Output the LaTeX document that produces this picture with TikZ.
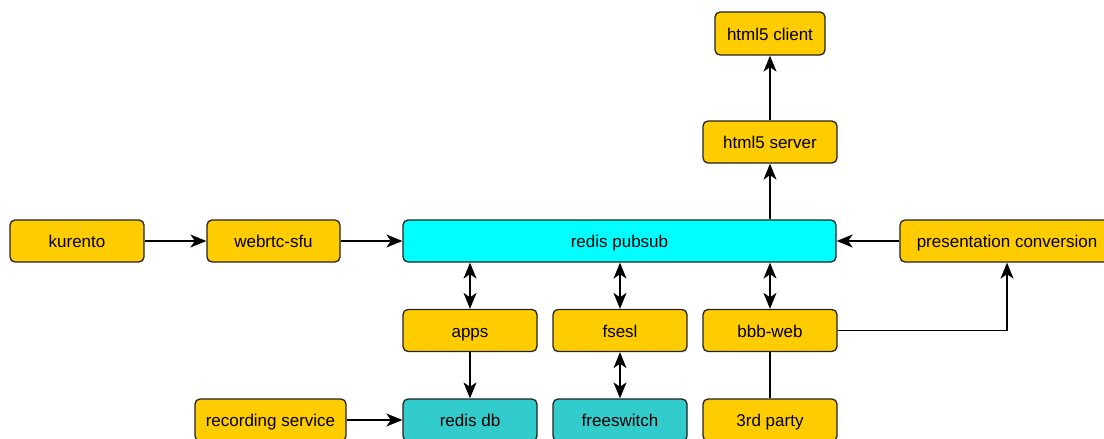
\documentclass[tikz,border=0pt]{standalone}
\usepackage{fontspec}
\setmainfont{Liberation Sans}
\usetikzlibrary{arrows.meta}
\definecolor{boxyellow}{HTML}{FFCC00}
\definecolor{boxcyan}{HTML}{00FFFF}
\definecolor{boxteal}{HTML}{33CCCC}
\definecolor{edge}{HTML}{222222}
\tikzset{
  box/.style={draw=edge, line width=1.3pt, rounded corners=5pt, minimum height=42pt,
    inner sep=0pt, font=\fontsize{17}{20}\selectfont, text=black,
    text height=14pt, text depth=0.4pt},
  ybox/.style={box, fill=boxyellow},
  cbox/.style={box, fill=boxcyan},
  tbox/.style={box, fill=boxteal},
  conn/.style={line width=1.3pt, draw=black},
  arr/.style={conn, -{Stealth[length=16pt, width=13pt, inset=4.5pt]}},
  darr/.style={conn, {Stealth[length=16pt, width=13pt, inset=4.5pt]}-{Stealth[length=16pt, width=13pt, inset=4.5pt]}}
}
\begin{document}
\begin{tikzpicture}[x=1pt, y=-1pt]
\useasboundingbox (0,0) rectangle (1104,439);
\node[ybox, minimum width=134pt] (kurento) at (77,241) {kurento};
\node[ybox, minimum width=133pt] (sfu) at (273.5,241) {webrtc-sfu};
\node[cbox, minimum width=433pt] (pubsub) at (619.5,241) {redis pubsub};
\node[ybox, minimum width=214pt] (pres) at (1007,241) {presentation conversion};
\node[ybox, minimum width=134pt] (server) at (770,142) {html5 server};
\node[ybox, minimum width=110pt, minimum height=43pt] (client) at (770,33.5) {html5 client};
\node[ybox, minimum width=134pt] (apps) at (470,330.5) {apps};
\node[ybox, minimum width=134pt] (fsesl) at (620,330.5) {fsesl};
\node[ybox, minimum width=134pt] (bbb) at (770,330.5) {bbb-web};
\node[tbox, minimum width=134pt] (redisdb) at (470,420) {redis db};
\node[tbox, minimum width=134pt] (freeswitch) at (620,420) {freeswitch};
\node[ybox, minimum width=134pt] (third) at (770,420) {3rd party};
\node[ybox, minimum width=151pt] (rec) at (270.5,420) {recording service};

\draw[arr] (kurento) -- (sfu);
\draw[arr] (sfu) -- (pubsub);
\draw[arr] (pres) -- (pubsub);
\draw[arr] (server |- pubsub.north) -- (server);
\draw[arr] (server) -- (client);
\draw[darr] (apps |- pubsub.south) -- (apps);
\draw[darr] (fsesl |- pubsub.south) -- (fsesl);
\draw[darr] (bbb |- pubsub.south) -- (bbb);
\draw[arr] (apps) -- (redisdb);
\draw[darr] (fsesl) -- (freeswitch);
\draw[conn] (bbb) -- (third);
\draw[arr] (bbb.east) -| (pres.south);
\draw[arr] (rec) -- (redisdb);
\end{tikzpicture}
\end{document}
